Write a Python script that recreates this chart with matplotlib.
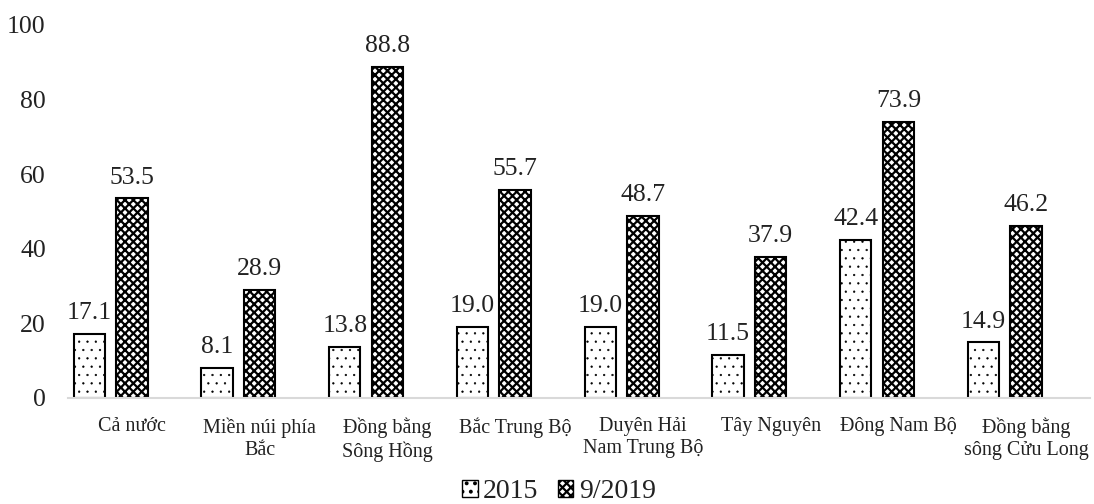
import matplotlib
matplotlib.use("Agg")
import matplotlib.pyplot as plt
import numpy as np

categories = ["Cả nước", "Miền núi phía\nBắc", "Đồng bằng\nSông Hồng", "Bắc Trung Bộ",
              "Duyên Hải\nNam Trung Bộ", "Tây Nguyên", "Đông Nam Bộ", "Đồng bằng\nsông Cửu Long"]
series_names = ["2015", "9/2019"]
values_2015 = [17.1, 8.1, 13.8, 19.0, 19.0, 11.5, 42.4, 14.9]
values_2019 = [53.5, 28.9, 88.8, 55.7, 48.7, 37.9, 73.9, 46.2]
yticks = [0, 20, 40, 60, 80, 100]

plt.rcParams['font.family'] = ['Liberation Serif', 'DejaVu Serif']
plt.rcParams['hatch.linewidth'] = 1.6

fig = plt.figure(figsize=(10.94, 5.04), dpi=100)
ax = fig.add_axes([68/1094, 106/504, (1090-68)/1094, (479-106)/504])

x = np.arange(len(categories))
w = 0.245
off = 0.333
b1 = ax.bar(x - off, values_2015, width=w, color='white', edgecolor='black',
            linewidth=1.5, hatch='..', label=series_names[0])
b2 = ax.bar(x, values_2019, width=w, color='white', edgecolor='black',
            linewidth=1.5, hatch='xxxx', label=series_names[1])
for p in b1:
    if hasattr(p, 'set_hatch_linewidth'):
        p.set_hatch_linewidth(0.4)

for rects, vals in ((b1, values_2015), (b2, values_2019)):
    for r, v in zip(rects, vals):
        ax.text(r.get_x() + r.get_width()/2, v + 5.6, f"{v:.1f}", ha='center', va='center',
                fontsize=18.5, color='#222222')

ax.set_xlim(-0.5, len(categories) - 0.5)
ax.set_ylim(0, 100)
ax.set_yticks(yticks)
ax.set_yticklabels([str(t) for t in yticks], fontsize=18.5, color='#222222')
ax.set_xticks(x)
ax.set_xticklabels(categories, fontsize=14.5, color='#222222', linespacing=1.2)
ax.tick_params(axis='both', length=0)
ax.tick_params(axis='y', pad=16)
ax.tick_params(axis='x', pad=14)
for s in ['top', 'right', 'left']:
    ax.spines[s].set_visible(False)
ax.spines['bottom'].set_color('#d9d9d9')
ax.spines['bottom'].set_linewidth(1.5)

leg = fig.legend(handles=[b1, b2], labels=series_names, loc='center', ncol=2,
                 bbox_to_anchor=(559/1094, 1 - 492/504), frameon=False, fontsize=20,
                 handlelength=0.55, handleheight=0.55, handletextpad=0.2, columnspacing=0.7)
for t in leg.get_texts():
    t.set_color('#222222')
for h in leg.legend_handles:
    h.set_linewidth(1.0)

fig.savefig('out.png', dpi=100)
